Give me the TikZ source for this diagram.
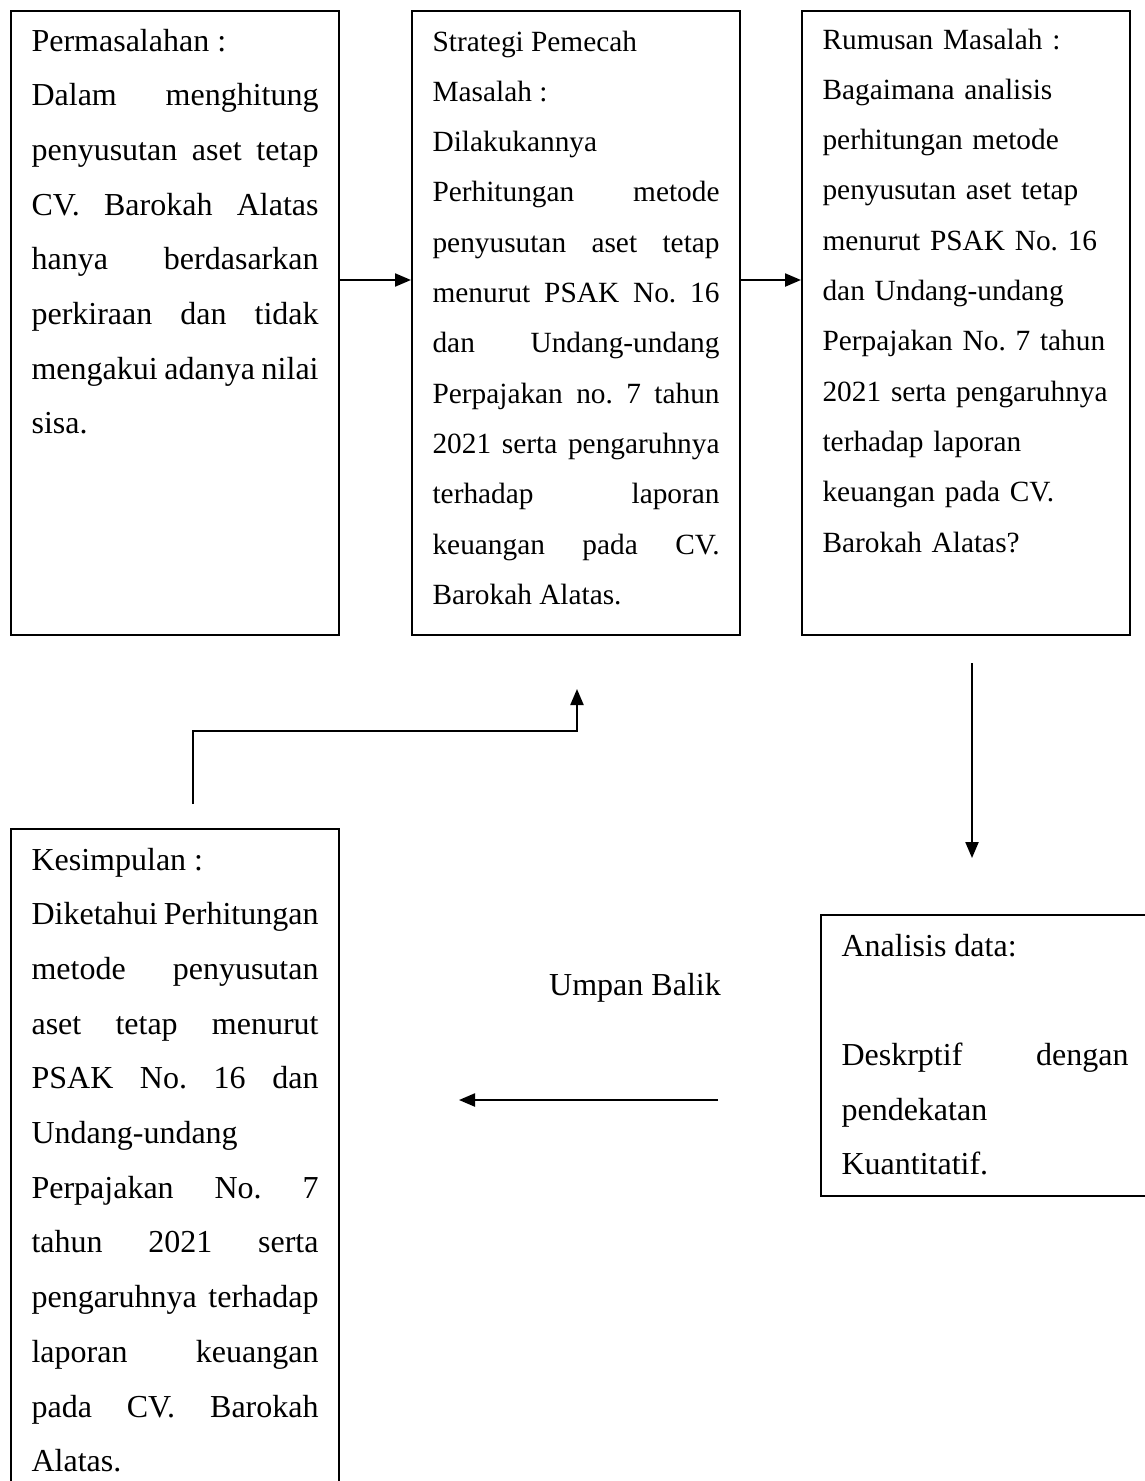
\documentclass[tikz,border=0pt]{standalone}
\usepackage{fontspec}
\setmainfont{Liberation Serif}
\usetikzlibrary{arrows.meta}
\newlength{\px}
\setlength{\px}{0.375pt}
\hyphenpenalty=10000
\tolerance=10000
\hbadness=10000
\frenchspacing
\tikzset{
kotak/.style={draw,line width=0.8pt,anchor=north west,inner xsep=20.5\px,inner ysep=0pt,text width=287\px,align=justify,font=\fontsize{12pt}{54.7\px}\selectfont,text height=40\px},
kecil/.style={font=\fontsize{11pt}{50.3\px}\selectfont},
panah/.style={line width=0.75pt,-{Triangle[length=6pt,width=4.9pt]}}
}
\begin{document}
\begin{tikzpicture}[x=0.375pt,y=-0.375pt]
\clip (0,0) rectangle (1145,1481);
\node[kotak,text depth=584\px] (masalah) at (10,10) {Permasalahan :\\ Dalam menghitung\linebreak penyusutan aset tetap\linebreak CV. Barokah Alatas\linebreak hanya berdasarkan\linebreak perkiraan dan tidak\linebreak mengakui adanya nilai\linebreak sisa.};
\node[kotak,kecil,text height=40\px,text depth=584\px] (strategi) at (411,10) {Strategi Pemecah\\ Masalah :\\ Dilakukannya\\ Perhitungan metode\linebreak penyusutan aset tetap\linebreak menurut PSAK No. 16\linebreak dan Undang-undang\linebreak Perpajakan no. 7 tahun\linebreak 2021 serta pengaruhnya\linebreak terhadap laporan\linebreak keuangan pada CV.\linebreak Barokah Alatas.};
\node[kotak,kecil,align=left,text height=38\px,text depth=586\px] (rumusan) at (801,10) {Rumusan Masalah :\\ Bagaimana analisis\\ perhitungan metode\\ penyusutan aset tetap\\ menurut PSAK No. 16\\ dan Undang-undang\\ Perpajakan No. 7 tahun\\ 2021 serta pengaruhnya\\ terhadap laporan\\ keuangan pada CV.\\ Barokah Alatas?};
\node[kotak,text height=41\px,text depth=240\px] (analisis) at (820,914) {Analisis data:\par\vspace{54.7\px}Deskrptif dengan\linebreak pendekatan\\ Kuantitatif.};
\node[kotak,text height=41\px,text depth=680\px] (kesimpulan) at (10,828) {Kesimpulan :\\ Diketahui Perhitungan\linebreak metode penyusutan\linebreak aset tetap menurut\linebreak PSAK No. 16 dan\linebreak Undang-undang\\ Perpajakan No. 7\linebreak tahun 2021 serta\linebreak pengaruhnya terhadap\linebreak laporan keuangan\linebreak pada CV. Barokah\linebreak Alatas.};
\node[anchor=base,font=\fontsize{12pt}{14pt}\selectfont] (umpan) at (635,995) {Umpan Balik};
\coordinate (baris) at (0,280);
\coordinate (r-out) at (972,663);
\coordinate (a-in) at (972,858);
\coordinate (a-out) at (718,1100);
\coordinate (k-in) at (459,1100);
\coordinate (k-out) at (193,804);
\coordinate (s-in) at (577,689);
\draw[panah] (masalah.east |- baris)--(strategi.west |- baris);
\draw[panah] (strategi.east |- baris)--(rumusan.west |- baris);
\draw[panah] (r-out)--(a-in);
\draw[panah] (a-out)--(k-in);
\draw[panah] (k-out)|-(577,731)--(s-in);
\end{tikzpicture}
\end{document}
